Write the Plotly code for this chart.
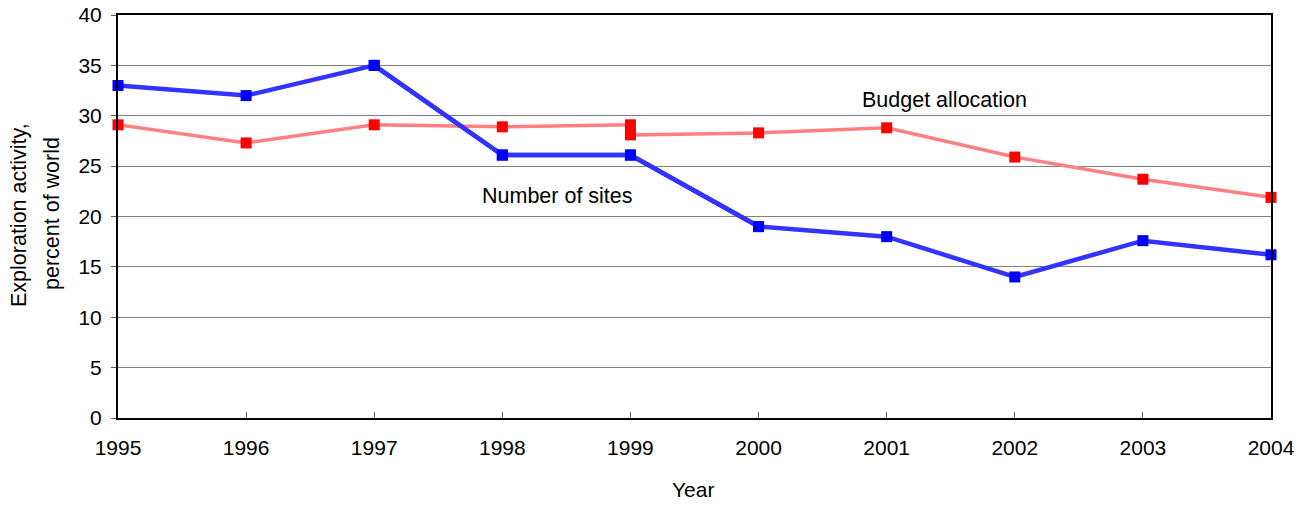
import plotly.graph_objects as go

years = [1995, 1996, 1997, 1998, 1999, 2000, 2001, 2002, 2003, 2004]

# Budget allocation (two segments, break at 1999)
budget_years_a = [1995, 1996, 1997, 1998, 1999]
budget_a = [29.1, 27.3, 29.1, 28.9, 29.1]
budget_years_b = [1999, 2000, 2001, 2002, 2003, 2004]
budget_b = [28.1, 28.3, 28.8, 25.9, 23.7, 21.9]

# Number of sites (two overlapping segments)
sites_years_a = [1995, 1996, 1997, 1998, 1999, 2000]
sites_a = [33.0, 32.0, 35.0, 26.1, 26.1, 19.0]
sites_years_b = [1997, 1998, 1999, 2000, 2001, 2002, 2003, 2004]
sites_b = [35.0, 26.1, 26.1, 19.0, 18.0, 14.0, 17.6, 16.2]

y_ticks = [0, 5, 10, 15, 20, 25, 30, 35, 40]

FONT = "Liberation Sans, Arial, sans-serif"

W, H = 1309, 506
ML, MR, MT, MB = 118, 38, 15, 88
PW, PH = W - ML - MR, H - MT - MB

fig = go.Figure()

def add_series(x, y, line_color, marker_color, width):
    fig.add_trace(go.Scatter(
        x=x, y=y, mode="lines+markers",
        line=dict(color=line_color, width=width),
        marker=dict(symbol="square", size=11, color=marker_color),
        showlegend=False, cliponaxis=False,
    ))

add_series(budget_years_a, budget_a, "#FF8080", "#FF0000", 3.5)
add_series(budget_years_b, budget_b, "#FF8080", "#FF0000", 3.5)
add_series(sites_years_a, sites_a, "#3333FF", "#0000FF", 4.5)
add_series(sites_years_b, sites_b, "#3333FF", "#0000FF", 4.5)

fig.add_annotation(x=2001.45, y=31.6, text="Budget allocation", showarrow=False,
                   font=dict(family=FONT, size=21.5, color="black"))
fig.add_annotation(x=1998.43, y=22.0, text="Number of sites", showarrow=False,
                   font=dict(family=FONT, size=21.5, color="black"))

# Axis titles (pixel coords -> paper coords)
def px_x(px):
    return (px - ML) / PW

def px_y(py):
    return 1 - (py - MT) / PH

fig.add_annotation(xref="paper", yref="paper", x=px_x(693), y=px_y(490),
                   text="Year", showarrow=False, xanchor="center", yanchor="middle",
                   font=dict(family=FONT, size=21, color="black"))
fig.add_annotation(xref="paper", yref="paper", x=px_x(19), y=px_y(215),
                   text="Exploration activity,", showarrow=False,
                   textangle=-90, xanchor="center", yanchor="middle",
                   font=dict(family=FONT, size=21.5, color="black"))
fig.add_annotation(xref="paper", yref="paper", x=px_x(52), y=px_y(214),
                   text="percent of world", showarrow=False,
                   textangle=-90, xanchor="center", yanchor="middle",
                   font=dict(family=FONT, size=21.5, color="black"))

fig.update_layout(
    width=W, height=H,
    margin=dict(l=ML, r=MR, t=MT, b=MB, autoexpand=False),
    paper_bgcolor="white", plot_bgcolor="white",
    font=dict(family=FONT, size=21, color="black"),
    xaxis=dict(
        range=[1995, 2004], tickmode="array", tickvals=years,
        ticktext=[str(y) for y in years],
        showgrid=False, zeroline=False, automargin=False,
        showline=True, linecolor="black", linewidth=2, mirror=True,
        ticks="inside", ticklen=6, tickcolor="#606060", tickwidth=1,
        ticklabelstandoff=10,
        tickfont=dict(size=21),
    ),
    yaxis=dict(
        range=[0, 40], tickmode="array", tickvals=y_ticks,
        showgrid=True, gridcolor="#808080", gridwidth=1.2,
        zeroline=False, automargin=False,
        showline=True, linecolor="black", linewidth=2, mirror=True,
        ticks="outside", ticklen=5, tickcolor="#606060",
        ticklabelstandoff=5,
        tickfont=dict(size=21),
    ),
)

fig.write_html("out.html", config={"displayModeBar": False},
               post_script="document.body.style.margin='0px';")
